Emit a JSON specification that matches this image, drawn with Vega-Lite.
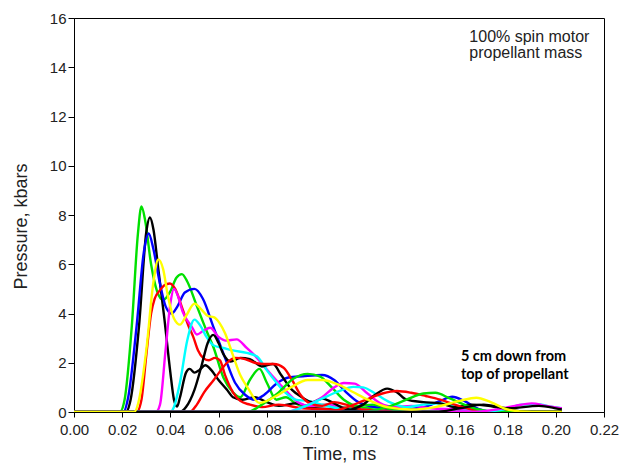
{
"$schema": "https://vega.github.io/schema/vega-lite/v6.json",
"width": 530, "height": 394,
"autosize": {"type": "none"},
"padding": {"left": 74, "top": 18, "right": 24, "bottom": 57},
"background": "white",
"config": {"view": {"stroke": "black", "strokeWidth": 1}, "font": "Liberation Sans"},
"datasets": {
"curves": [
{"s":"s01","t":0,"p":0},{"s":"s01","t":0.019,"p":0},{"s":"s01","t":0.021,"p":0.5},{"s":"s01","t":0.024,"p":3.5},{"s":"s01","t":0.0265,"p":7.2},{"s":"s01","t":0.028,"p":8.35},{"s":"s01","t":0.0295,"p":7.8},{"s":"s01","t":0.032,"p":6.0},{"s":"s01","t":0.0345,"p":4.9},{"s":"s01","t":0.037,"p":4.55},{"s":"s01","t":0.04,"p":4.9},{"s":"s01","t":0.0425,"p":5.45},{"s":"s01","t":0.0448,"p":5.6},{"s":"s01","t":0.047,"p":5.3},{"s":"s01","t":0.051,"p":4.3},{"s":"s01","t":0.055,"p":3.3},{"s":"s01","t":0.058,"p":2.6},{"s":"s01","t":0.062,"p":1.4},{"s":"s01","t":0.066,"p":0.8},{"s":"s01","t":0.069,"p":0.6},{"s":"s01","t":0.073,"p":1.3},{"s":"s01","t":0.077,"p":1.75},{"s":"s01","t":0.08,"p":1.2},{"s":"s01","t":0.084,"p":0.5},{"s":"s01","t":0.088,"p":0.6},{"s":"s01","t":0.092,"p":0.35},{"s":"s01","t":0.097,"p":0.2},{"s":"s01","t":0.105,"p":0.3},{"s":"s01","t":0.115,"p":0.15},{"s":"s01","t":0.13,"p":0.2},{"s":"s01","t":0.145,"p":0.05},{"s":"s01","t":0.155,"p":0},{"s":"s01","t":0.2025,"p":0},
{"s":"s02","t":0,"p":0},{"s":"s02","t":0.0215,"p":0},{"s":"s02","t":0.0235,"p":0.5},{"s":"s02","t":0.027,"p":3.5},{"s":"s02","t":0.03,"p":7.3},{"s":"s02","t":0.0315,"p":7.9},{"s":"s02","t":0.033,"p":7.4},{"s":"s02","t":0.035,"p":5.8},{"s":"s02","t":0.0375,"p":3.8},{"s":"s02","t":0.04,"p":1.6},{"s":"s02","t":0.0415,"p":0.5},{"s":"s02","t":0.0428,"p":0.22},{"s":"s02","t":0.044,"p":0.6},{"s":"s02","t":0.0465,"p":1.6},{"s":"s02","t":0.048,"p":1.75},{"s":"s02","t":0.05,"p":1.6},{"s":"s02","t":0.052,"p":1.7},{"s":"s02","t":0.0545,"p":1.9},{"s":"s02","t":0.057,"p":1.7},{"s":"s02","t":0.06,"p":1.3},{"s":"s02","t":0.0635,"p":0.9},{"s":"s02","t":0.066,"p":0.6},{"s":"s02","t":0.07,"p":0.5},{"s":"s02","t":0.075,"p":0.6},{"s":"s02","t":0.08,"p":0.4},{"s":"s02","t":0.085,"p":0.25},{"s":"s02","t":0.092,"p":0.35},{"s":"s02","t":0.1,"p":0.15},{"s":"s02","t":0.11,"p":0.1},{"s":"s02","t":0.125,"p":0.05},{"s":"s02","t":0.14,"p":0},{"s":"s02","t":0.2025,"p":0},
{"s":"s03","t":0,"p":0},{"s":"s03","t":0.0205,"p":0},{"s":"s03","t":0.0225,"p":0.6},{"s":"s03","t":0.026,"p":3.5},{"s":"s03","t":0.029,"p":6.5},{"s":"s03","t":0.031,"p":7.25},{"s":"s03","t":0.033,"p":6.6},{"s":"s03","t":0.0355,"p":5.3},{"s":"s03","t":0.038,"p":4.3},{"s":"s03","t":0.0405,"p":4.0},{"s":"s03","t":0.043,"p":4.3},{"s":"s03","t":0.046,"p":4.85},{"s":"s03","t":0.05,"p":5.0},{"s":"s03","t":0.0535,"p":4.6},{"s":"s03","t":0.0577,"p":3.5},{"s":"s03","t":0.0627,"p":2.2},{"s":"s03","t":0.0668,"p":1.2},{"s":"s03","t":0.071,"p":0.7},{"s":"s03","t":0.075,"p":0.5},{"s":"s03","t":0.079,"p":0.7},{"s":"s03","t":0.084,"p":1.15},{"s":"s03","t":0.089,"p":1.4},{"s":"s03","t":0.095,"p":1.45},{"s":"s03","t":0.103,"p":1.5},{"s":"s03","t":0.108,"p":1.3},{"s":"s03","t":0.113,"p":0.8},{"s":"s03","t":0.118,"p":0.4},{"s":"s03","t":0.125,"p":0.2},{"s":"s03","t":0.135,"p":0.1},{"s":"s03","t":0.145,"p":0.2},{"s":"s03","t":0.152,"p":0.45},{"s":"s03","t":0.157,"p":0.62},{"s":"s03","t":0.162,"p":0.45},{"s":"s03","t":0.168,"p":0.12},{"s":"s03","t":0.175,"p":0},{"s":"s03","t":0.2025,"p":0},
{"s":"s04","t":0,"p":0},{"s":"s04","t":0.026,"p":0},{"s":"s04","t":0.028,"p":0.5},{"s":"s04","t":0.03,"p":2.3},{"s":"s04","t":0.032,"p":4.0},{"s":"s04","t":0.0335,"p":4.6},{"s":"s04","t":0.0357,"p":4.95},{"s":"s04","t":0.0375,"p":5.15},{"s":"s04","t":0.0398,"p":5.22},{"s":"s04","t":0.042,"p":5.0},{"s":"s04","t":0.045,"p":4.2},{"s":"s04","t":0.0475,"p":3.5},{"s":"s04","t":0.0495,"p":3.05},{"s":"s04","t":0.0515,"p":2.5},{"s":"s04","t":0.0536,"p":2.2},{"s":"s04","t":0.056,"p":2.1},{"s":"s04","t":0.0585,"p":2.2},{"s":"s04","t":0.0606,"p":2.1},{"s":"s04","t":0.0627,"p":1.5},{"s":"s04","t":0.066,"p":0.8},{"s":"s04","t":0.069,"p":0.45},{"s":"s04","t":0.073,"p":0.3},{"s":"s04","t":0.078,"p":0.2},{"s":"s04","t":0.085,"p":0.3},{"s":"s04","t":0.095,"p":0.15},{"s":"s04","t":0.11,"p":0.1},{"s":"s04","t":0.13,"p":0},{"s":"s04","t":0.2025,"p":0},
{"s":"s05","t":0,"p":0},{"s":"s05","t":0.034,"p":0},{"s":"s05","t":0.0357,"p":0.3},{"s":"s05","t":0.038,"p":2.5},{"s":"s05","t":0.04,"p":4.4},{"s":"s05","t":0.0415,"p":5.0},{"s":"s05","t":0.043,"p":4.75},{"s":"s05","t":0.045,"p":4.1},{"s":"s05","t":0.0489,"p":3.46},{"s":"s05","t":0.051,"p":3.15},{"s":"s05","t":0.0537,"p":3.3},{"s":"s05","t":0.0565,"p":3.42},{"s":"s05","t":0.06,"p":3.05},{"s":"s05","t":0.063,"p":2.9},{"s":"s05","t":0.0675,"p":2.95},{"s":"s05","t":0.0717,"p":2.6},{"s":"s05","t":0.075,"p":2.3},{"s":"s05","t":0.082,"p":1.5},{"s":"s05","t":0.0876,"p":0.9},{"s":"s05","t":0.093,"p":0.4},{"s":"s05","t":0.098,"p":0.25},{"s":"s05","t":0.105,"p":0.3},{"s":"s05","t":0.115,"p":0.1},{"s":"s05","t":0.13,"p":0},{"s":"s05","t":0.2025,"p":0},
{"s":"s06","t":0,"p":0},{"s":"s06","t":0.04,"p":0},{"s":"s06","t":0.0415,"p":0.2},{"s":"s06","t":0.044,"p":1.2},{"s":"s06","t":0.047,"p":2.9},{"s":"s06","t":0.05,"p":3.75},{"s":"s06","t":0.0525,"p":3.5},{"s":"s06","t":0.055,"p":3.05},{"s":"s06","t":0.058,"p":2.7},{"s":"s06","t":0.062,"p":2.6},{"s":"s06","t":0.066,"p":2.5},{"s":"s06","t":0.0717,"p":2.4},{"s":"s06","t":0.076,"p":2.25},{"s":"s06","t":0.08,"p":1.7},{"s":"s06","t":0.084,"p":1.2},{"s":"s06","t":0.0876,"p":0.8},{"s":"s06","t":0.092,"p":0.5},{"s":"s06","t":0.097,"p":0.45},{"s":"s06","t":0.103,"p":0.3},{"s":"s06","t":0.11,"p":0.15},{"s":"s06","t":0.12,"p":0.1},{"s":"s06","t":0.13,"p":0},{"s":"s06","t":0.2025,"p":0},
{"s":"s07","t":0,"p":0},{"s":"s07","t":0.044,"p":0},{"s":"s07","t":0.0465,"p":0.2},{"s":"s07","t":0.05,"p":0.9},{"s":"s07","t":0.053,"p":1.9},{"s":"s07","t":0.0555,"p":2.8},{"s":"s07","t":0.0578,"p":3.13},{"s":"s07","t":0.06,"p":2.8},{"s":"s07","t":0.062,"p":2.35},{"s":"s07","t":0.065,"p":2.05},{"s":"s07","t":0.069,"p":2.2},{"s":"s07","t":0.073,"p":2.15},{"s":"s07","t":0.078,"p":1.85},{"s":"s07","t":0.0826,"p":1.95},{"s":"s07","t":0.086,"p":1.5},{"s":"s07","t":0.0905,"p":0.9},{"s":"s07","t":0.0946,"p":0.6},{"s":"s07","t":0.099,"p":0.4},{"s":"s07","t":0.103,"p":0.55},{"s":"s07","t":0.107,"p":0.4},{"s":"s07","t":0.112,"p":0.15},{"s":"s07","t":0.12,"p":0.05},{"s":"s07","t":0.13,"p":0},{"s":"s07","t":0.2025,"p":0},
{"s":"s08","t":0,"p":0},{"s":"s08","t":0.048,"p":0},{"s":"s08","t":0.051,"p":0.3},{"s":"s08","t":0.054,"p":0.8},{"s":"s08","t":0.058,"p":1.3},{"s":"s08","t":0.061,"p":1.7},{"s":"s08","t":0.0635,"p":2.0},{"s":"s08","t":0.067,"p":2.2},{"s":"s08","t":0.071,"p":2.15},{"s":"s08","t":0.075,"p":2.0},{"s":"s08","t":0.079,"p":1.95},{"s":"s08","t":0.083,"p":1.95},{"s":"s08","t":0.087,"p":1.8},{"s":"s08","t":0.0905,"p":1.3},{"s":"s08","t":0.094,"p":0.7},{"s":"s08","t":0.098,"p":0.35},{"s":"s08","t":0.103,"p":0.25},{"s":"s08","t":0.108,"p":0.4},{"s":"s08","t":0.113,"p":0.3},{"s":"s08","t":0.12,"p":0.1},{"s":"s08","t":0.13,"p":0.05},{"s":"s08","t":0.14,"p":0},{"s":"s08","t":0.2025,"p":0},
{"s":"s09","t":0,"p":0},{"s":"s09","t":0.072,"p":0},{"s":"s09","t":0.078,"p":0.3},{"s":"s09","t":0.085,"p":0.8},{"s":"s09","t":0.091,"p":1.35},{"s":"s09","t":0.097,"p":1.55},{"s":"s09","t":0.102,"p":1.45},{"s":"s09","t":0.107,"p":1.0},{"s":"s09","t":0.112,"p":0.5},{"s":"s09","t":0.118,"p":0.25},{"s":"s09","t":0.124,"p":0.3},{"s":"s09","t":0.13,"p":0.15},{"s":"s09","t":0.14,"p":0},{"s":"s09","t":0.2025,"p":0},
{"s":"s10","t":0,"p":0},{"s":"s10","t":0.088,"p":0},{"s":"s10","t":0.095,"p":0.2},{"s":"s10","t":0.103,"p":0.6},{"s":"s10","t":0.108,"p":1.0},{"s":"s10","t":0.112,"p":1.18},{"s":"s10","t":0.1165,"p":1.15},{"s":"s10","t":0.1216,"p":0.77},{"s":"s10","t":0.127,"p":0.36},{"s":"s10","t":0.133,"p":0.2},{"s":"s10","t":0.14,"p":0.25},{"s":"s10","t":0.148,"p":0.15},{"s":"s10","t":0.16,"p":0.1},{"s":"s10","t":0.17,"p":0},{"s":"s10","t":0.2025,"p":0},
{"s":"s11","t":0,"p":0},{"s":"s11","t":0.088,"p":0},{"s":"s11","t":0.095,"p":0.2},{"s":"s11","t":0.102,"p":0.5},{"s":"s11","t":0.11,"p":0.85},{"s":"s11","t":0.116,"p":1.02},{"s":"s11","t":0.12,"p":1.0},{"s":"s11","t":0.125,"p":0.75},{"s":"s11","t":0.131,"p":0.4},{"s":"s11","t":0.138,"p":0.2},{"s":"s11","t":0.145,"p":0.3},{"s":"s11","t":0.152,"p":0.35},{"s":"s11","t":0.16,"p":0.2},{"s":"s11","t":0.17,"p":0.05},{"s":"s11","t":0.18,"p":0},{"s":"s11","t":0.2025,"p":0},
{"s":"s12","t":0,"p":0},{"s":"s12","t":0.108,"p":0},{"s":"s12","t":0.115,"p":0.1},{"s":"s12","t":0.12,"p":0.3},{"s":"s12","t":0.125,"p":0.7},{"s":"s12","t":0.13,"p":0.95},{"s":"s12","t":0.134,"p":0.8},{"s":"s12","t":0.138,"p":0.5},{"s":"s12","t":0.145,"p":0.4},{"s":"s12","t":0.152,"p":0.35},{"s":"s12","t":0.158,"p":0.2},{"s":"s12","t":0.165,"p":0.3},{"s":"s12","t":0.172,"p":0.25},{"s":"s12","t":0.18,"p":0.1},{"s":"s12","t":0.19,"p":0},{"s":"s12","t":0.2025,"p":0},
{"s":"s13","t":0,"p":0},{"s":"s13","t":0.105,"p":0},{"s":"s13","t":0.112,"p":0.15},{"s":"s13","t":0.12,"p":0.45},{"s":"s13","t":0.128,"p":0.75},{"s":"s13","t":0.134,"p":0.85},{"s":"s13","t":0.14,"p":0.78},{"s":"s13","t":0.146,"p":0.65},{"s":"s13","t":0.152,"p":0.5},{"s":"s13","t":0.158,"p":0.3},{"s":"s13","t":0.165,"p":0.1},{"s":"s13","t":0.172,"p":0},{"s":"s13","t":0.2025,"p":0},
{"s":"s14","t":0,"p":0},{"s":"s14","t":0.12,"p":0},{"s":"s14","t":0.13,"p":0.2},{"s":"s14","t":0.138,"p":0.5},{"s":"s14","t":0.145,"p":0.75},{"s":"s14","t":0.15,"p":0.78},{"s":"s14","t":0.156,"p":0.55},{"s":"s14","t":0.162,"p":0.3},{"s":"s14","t":0.168,"p":0.1},{"s":"s14","t":0.175,"p":0},{"s":"s14","t":0.2025,"p":0},
{"s":"s15","t":0,"p":0},{"s":"s15","t":0.168,"p":0},{"s":"s15","t":0.178,"p":0.1},{"s":"s15","t":0.186,"p":0.3},{"s":"s15","t":0.192,"p":0.32},{"s":"s15","t":0.198,"p":0.22},{"s":"s15","t":0.2025,"p":0.15},
{"s":"s16","t":0,"p":0},{"s":"s16","t":0.165,"p":0},{"s":"s16","t":0.175,"p":0.1},{"s":"s16","t":0.183,"p":0.25},{"s":"s16","t":0.19,"p":0.35},{"s":"s16","t":0.196,"p":0.25},{"s":"s16","t":0.2025,"p":0.15},
{"s":"s17","t":0,"p":0},{"s":"s17","t":0.15,"p":0},{"s":"s17","t":0.16,"p":0.15},{"s":"s17","t":0.17,"p":0.3},{"s":"s17","t":0.18,"p":0.15},{"s":"s17","t":0.193,"p":0.25},{"s":"s17","t":0.2,"p":0.15},{"s":"s17","t":0.2025,"p":0.1},
{"s":"s18","t":0,"p":0},{"s":"s18","t":0.025,"p":0},{"s":"s18","t":0.027,"p":0.5},{"s":"s18","t":0.03,"p":2.5},{"s":"s18","t":0.033,"p":5.3},{"s":"s18","t":0.035,"p":6.2},{"s":"s18","t":0.037,"p":5.8},{"s":"s18","t":0.039,"p":4.7},{"s":"s18","t":0.0415,"p":3.8},{"s":"s18","t":0.044,"p":3.55},{"s":"s18","t":0.0465,"p":3.9},{"s":"s18","t":0.05,"p":4.4},{"s":"s18","t":0.053,"p":4.15},{"s":"s18","t":0.0555,"p":3.9},{"s":"s18","t":0.058,"p":3.85},{"s":"s18","t":0.0605,"p":3.6},{"s":"s18","t":0.0627,"p":3.2},{"s":"s18","t":0.066,"p":2.3},{"s":"s18","t":0.069,"p":1.5},{"s":"s18","t":0.072,"p":1.0},{"s":"s18","t":0.077,"p":0.37},{"s":"s18","t":0.083,"p":0.6},{"s":"s18","t":0.09,"p":1.0},{"s":"s18","t":0.097,"p":1.3},{"s":"s18","t":0.103,"p":1.3},{"s":"s18","t":0.11,"p":1.1},{"s":"s18","t":0.116,"p":0.8},{"s":"s18","t":0.122,"p":0.5},{"s":"s18","t":0.13,"p":0.2},{"s":"s18","t":0.14,"p":0.1},{"s":"s18","t":0.15,"p":0.2},{"s":"s18","t":0.16,"p":0.45},{"s":"s18","t":0.167,"p":0.58},{"s":"s18","t":0.173,"p":0.4},{"s":"s18","t":0.18,"p":0.1},{"s":"s18","t":0.19,"p":0},{"s":"s18","t":0.2025,"p":0}
]
},
"layer": [
{
"data": {"name": "curves"},
"mark": {"type": "line", "interpolate": "monotone", "strokeWidth": 2.4, "clip": true},
"encoding": {
"x": {"field": "t", "type": "quantitative",
 "scale": {"domain": [0, 0.22], "nice": false, "zero": false},
 "axis": {"title": "Time, ms", "values": [0,0.01,0.02,0.03,0.04,0.05,0.06,0.07,0.08,0.09,0.1,0.11,0.12,0.13,0.14,0.15,0.16,0.17,0.18,0.19,0.2,0.21,0.22],
  "labelExpr": "round(datum.value*100) % 2 == 0 ? format(datum.value, '.2f') : ''",
  "grid": false, "tickSize": 5, "labelPadding": 5, "labelFontSize": 15, "labelFont": "Liberation Sans", "labelColor": "#222",
  "labelOverlap": false, "labelFlush": false, "labelBound": false,
  "titleFontSize": 18, "titleFont": "Liberation Sans", "titleFontWeight": "normal", "titleColor": "#222", "titlePadding": 8,
  "domainColor": "black", "tickColor": "black"}},
"y": {"field": "p", "type": "quantitative",
 "scale": {"domain": [0, 16], "nice": false},
 "axis": {"title": "Pressure, kbars", "values": [0,1,2,3,4,5,6,7,8,9,10,11,12,13,14,15,16],
  "labelExpr": "datum.value % 2 == 0 ? datum.label : ''",
  "grid": false, "tickSize": 6, "labelPadding": 2, "labelFontSize": 15, "labelFont": "Liberation Sans", "labelColor": "#222",
  "labelOverlap": false, "labelBound": false, "labelFlush": false,
  "titleFontSize": 18, "titleFont": "Liberation Sans", "titleFontWeight": "normal", "titleColor": "#222", "titleX": -44, "titleY": 208,
  "domainColor": "black", "tickColor": "black"}},
"color": {"field": "s", "type": "nominal", "legend": null,
 "scale": {"domain": ["s01","s02","s03","s04","s05","s06","s07","s08","s09","s10","s11","s12","s13","s14","s15","s16","s17","s18"],
  "range": ["#00e000","#000000","#0000ff","#ff0000","#ff00ff","#00ffff","#000000","#ff0000","#00e000","#ff00ff","#00ffff","#000000","#ff0000","#00e000","#00ffff","#ff00ff","#000000","#ffff00"]}}
}
},
{
"data": {"values": [{}]},
"mark": {"type": "text", "text": ["100% spin motor", "propellant mass"], "align": "left", "baseline": "alphabetic", "font": "Liberation Sans", "fontSize": 16, "lineHeight": 16.5, "color": "#222"},
"encoding": {"x": {"datum": 0.1641, "type": "quantitative"}, "y": {"datum": 15.03, "type": "quantitative"}}
},
{
"data": {"values": [{}]},
"mark": {"type": "text", "text": ["5 cm down from", "top of propellant"], "align": "left", "baseline": "alphabetic", "font": "Lato", "fontWeight": "bold", "fontSize": 14.5, "lineHeight": 18.6, "color": "#000"},
"encoding": {"x": {"datum": 0.1606, "type": "quantitative"}, "y": {"datum": 2.083, "type": "quantitative"}}
}
]
}
